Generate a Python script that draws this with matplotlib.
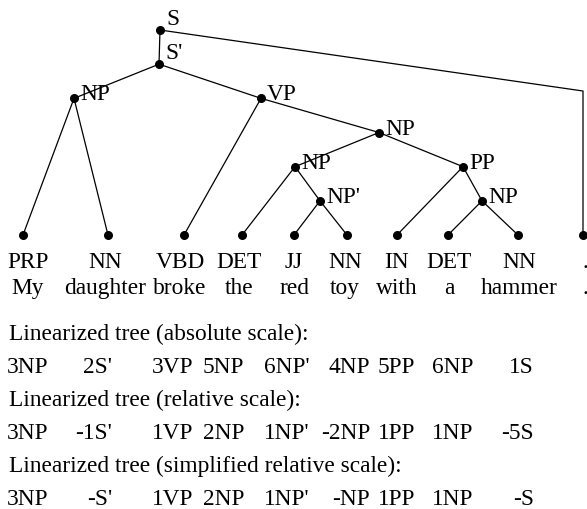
import matplotlib
matplotlib.use("Agg")
import matplotlib.pyplot as plt

# sentence and its POS tags
words = ["My", "daughter", "broke", "the", "red", "toy", "with", "a", "hammer", "."]
tags = ["PRP", "NN", "VBD", "DET", "JJ", "NN", "IN", "DET", "NN", "."]

# lowest common ancestor between consecutive words (absolute scale)
abs_levels = [3, 2, 3, 5, 6, 4, 5, 6, 1]
abs_labels = ["NP", "S'", "VP", "NP", "NP'", "NP", "PP", "NP", "S"]

# internal tree nodes: label, depth level, children ("n" node / "w" word)
node_labels = ["S", "S'", "NP", "VP", "NP", "NP", "NP'", "PP", "NP"]
node_levels = [1, 2, 3, 3, 4, 5, 6, 5, 6]
node_children = [
    [("n", 1), ("w", 9)],
    [("n", 2), ("n", 3)],
    [("w", 0), ("w", 1)],
    [("w", 2), ("n", 4)],
    [("n", 5), ("n", 7)],
    [("w", 3), ("n", 6)],
    [("w", 4), ("w", 5)],
    [("w", 6), ("n", 8)],
    [("w", 7), ("w", 8)],
]

# layout (pixels)
W, H = 587, 510
LEAF_LEVEL = 7
node_x = [160, 159, 74, 261, 379, 295, 320, 463, 482]
leaf_x = [23, 108, 184, 242, 294, 347, 397, 448, 518, 583]
col_x = [28, 105, 180, 239, 294, 345, 397, 449, 519, 585]
lin_right = [48, 112, 193, 244, 310, 370, 415, 473, 534]
CORNER_Y = 92
FONT = "Liberation Serif"
FS = 16.8


def level_y(level):
    return 31 + (level - 1) * 34.17


def fmt_rel(levels, labels, simplified=False):
    out = []
    prev = 0
    for lv, lab in zip(levels, labels):
        d = lv - prev
        prev = lv
        if simplified and d < 0:
            out.append(f"-{lab}")
        else:
            out.append(f"{d}{lab}")
    return out


def main():
    fig = plt.figure(figsize=(W / 100, H / 100), dpi=100)
    ax = fig.add_axes([0, 0, 1, 1])
    ax.set_xlim(0, W)
    ax.set_ylim(H, 0)
    ax.axis("off")

    leaf_y = level_y(LEAF_LEVEL)

    def pos(kind, idx):
        if kind == "n":
            return node_x[idx], level_y(node_levels[idx])
        return leaf_x[idx], leaf_y

    # edges
    for i, children in enumerate(node_children):
        px, py = pos("n", i)
        for kind, idx in children:
            cx, cy = pos(kind, idx)
            if i == 0 and kind == "w":
                ax.plot([px, cx, cx], [py, CORNER_Y, cy], color="black", lw=0.9, zorder=1)
            else:
                ax.plot([px, cx], [py, cy], color="black", lw=0.9, zorder=1)

    # dots
    ax.scatter(node_x, [level_y(l) for l in node_levels], s=30, color="black", zorder=2)
    ax.scatter(leaf_x, [leaf_y] * len(leaf_x), s=30, color="black", zorder=2)

    # node labels
    for i, lab in enumerate(node_labels):
        x, y = pos("n", i)
        dy = -6 if i < 2 else 1
        ax.text(x + 6, y + dy, lab, fontsize=FS, family=FONT, va="baseline", ha="left")

    # tags and words
    for x, t, w in zip(col_x, tags, words):
        ax.text(x, 268, t, fontsize=FS, family=FONT, va="baseline", ha="center")
        ax.text(x, 294, w, fontsize=FS, family=FONT, va="baseline", ha="center")

    rows = [
        ("Linearized tree (absolute scale):", [f"{l}{b}" for l, b in zip(abs_levels, abs_labels)]),
        ("Linearized tree (relative scale):", fmt_rel(abs_levels, abs_labels)),
        ("Linearized tree (simplified relative scale):", fmt_rel(abs_levels, abs_labels, True)),
    ]
    y = 340
    for title, vals in rows:
        ax.text(9, y, title, fontsize=FS, family=FONT, va="baseline", ha="left")
        y += 33
        for x, v in zip(lin_right, vals):
            ax.text(x, y, v, fontsize=FS, family=FONT, va="baseline", ha="right")
        y += 33

    fig.savefig("out.png", dpi=100)


if __name__ == "__main__":
    main()
